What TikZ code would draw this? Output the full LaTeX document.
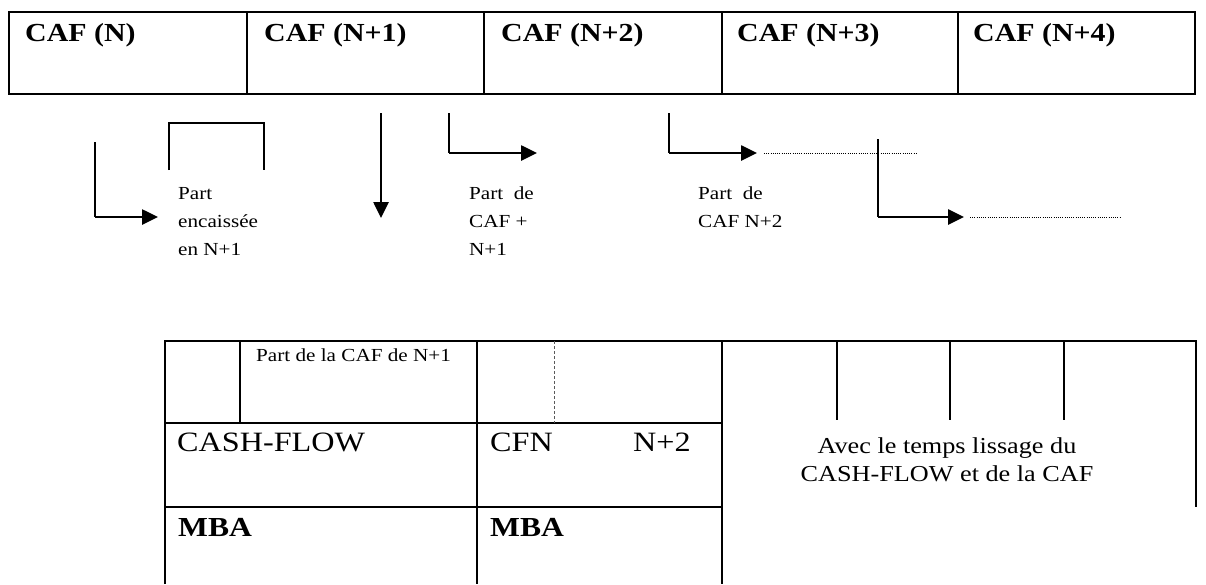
\documentclass[tikz,border=0pt]{standalone}
\usepackage{fontspec}
\setmainfont{Liberation Serif}[FakeStretch=1.15]
\usetikzlibrary{arrows.meta}
\begin{document}
\begin{tikzpicture}[x=1pt,y=-1pt,
  grid/.style={line width=2.4pt},
  flow/.style={line width=2.6pt,-{Triangle[length=16pt,width=15pt]}},
  elbow/.style={line width=2.6pt},
  trail/.style={line width=0.9pt,dash pattern=on 1pt off 1.2pt},
  split/.style={line width=0.8pt,gray!70!black,dash pattern=on 3pt off 2pt},
  head/.style={anchor=base west,inner sep=0pt,font=\fontsize{26}{31}\selectfont\bfseries},
  note/.style={anchor=base west,inner sep=0pt,font=\fontsize{18.4}{28}\selectfont},
  big/.style={anchor=base west,inner sep=0pt,font=\fontsize{28}{30}\selectfont},
  bigb/.style={anchor=base west,inner sep=0pt,font=\fontsize{27.5}{30}\selectfont\bfseries},
  mid/.style={anchor=base,inner sep=0pt,font=\fontsize{22.8}{28}\selectfont}]
\useasboundingbox (0,0) rectangle (1206,584);

% ---- yearly CAF strip ----
\draw[grid] (9,12) rectangle (1195,94);
\foreach \x in {247,484,722,958} \draw[grid] (\x,12) -- (\x,94);
\node[head] (c0) at (25,41) {CAF (N)};
\node[head] (c1) at (264,41) {CAF (N+1)};
\node[head] (c2) at (501,41) {CAF (N+2)};
\node[head] (c3) at (737,41) {CAF (N+3)};
\node[head] (c4) at (973,41) {CAF (N+4)};

% ---- arrows under the strip ----
\coordinate (a0) at (95,142);   \coordinate (a1) at (95,217);   \coordinate (a2) at (158,217);
\draw[elbow] (a0) -- (a1);
\draw[flow] (a1) -- (a2);

\coordinate (k0) at (169,170); \coordinate (k1) at (169,123);
\coordinate (k2) at (264,123); \coordinate (k3) at (264,170);
\draw[elbow] (k0) -- (k1) -- (k2) -- (k3);

\node[note] (p1) at (178,199) {Part};
\node[note] (p2) at (178,227) {encaissée};
\node[note] (p3) at (178,255) {en N+1};

\coordinate (b0) at (381,113); \coordinate (b1) at (381,218);
\draw[flow] (b0) -- (b1);

\coordinate (d0) at (449,113); \coordinate (d1) at (449,153); \coordinate (d2) at (537,153);
\draw[elbow] (d0) -- (d1);
\draw[flow] (d1) -- (d2);
\node[note] (q1) at (469,199) {Part\ \ de};
\node[note] (q2) at (469,227) {CAF +};
\node[note] (q3) at (469,255) {N+1};

\coordinate (e0) at (669,113); \coordinate (e1) at (669,153); \coordinate (e2) at (757,153);
\coordinate (e3) at (764,153); \coordinate (e4) at (916,153);
\draw[elbow] (e0) -- (e1);
\draw[flow] (e1) -- (e2);
\draw[trail] (e3) -- (e4);
\node[note] (r1) at (698,199) {Part\ \ de};
\node[note] (r2) at (698,227) {CAF N+2};

\coordinate (f0) at (878,139); \coordinate (f1) at (878,217); \coordinate (f2) at (964,217);
\coordinate (f3) at (970,217); \coordinate (f4) at (1120,217);
\draw[elbow] (f0) -- (f1);
\draw[flow] (f1) -- (f2);
\draw[trail] (f3) -- (f4);

% ---- lower table ----
\draw[grid] (165,584) -- (165,341) -- (1196,341) -- (1196,507);
\draw[grid] (165,423) -- (722,423);
\draw[grid] (165,507) -- (722,507);
\draw[grid] (477,341) -- (477,584);
\draw[grid] (722,341) -- (722,584);
\draw[grid] (240,341) -- (240,423);
\draw[split] (554,341) -- (554,423);
\foreach \x in {837,950,1064} \draw[grid] (\x,341) -- (\x,420);

\node[note] (t1) at (256,361) {Part de la CAF de N+1};
\node[big] (t2) at (177,451) {CASH-FLOW};
\node[big] (t3) at (490,451) {CFN};
\node[big] (t4) at (633,451) {N+2};
\node[bigb] (t5) at (178,536) {MBA};
\node[bigb] (t6) at (490,536) {MBA};
\node[mid] (t7) at (947,453) {Avec le temps lissage du};
\node[mid] (t8) at (947,481) {CASH-FLOW et de la CAF};
\end{tikzpicture}
\end{document}
